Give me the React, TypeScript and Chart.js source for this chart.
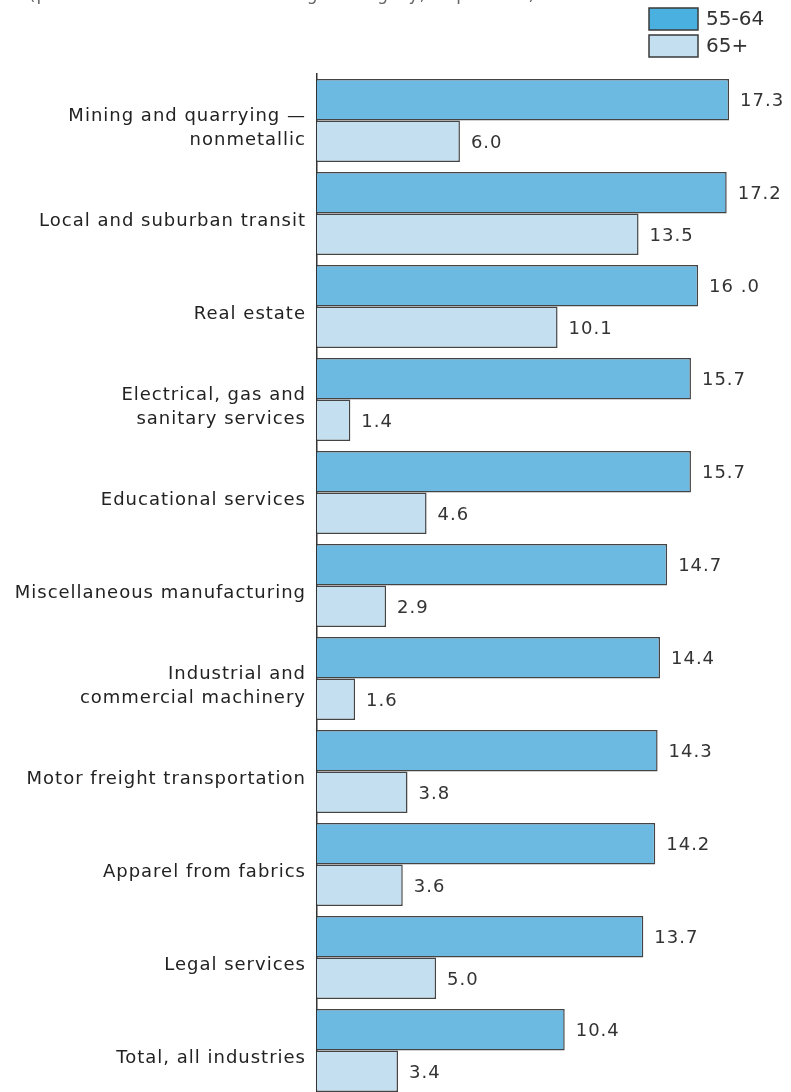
import React, { useEffect, useRef } from "react";
import { Chart, registerables } from "chart.js";

Chart.register(...registerables);

const categories: (string | string[])[] = [
  ["Mining and quarrying —", "nonmetallic"],
  "Local and suburban transit",
  "Real estate",
  ["Electrical, gas and", "sanitary services"],
  "Educational services",
  "Miscellaneous manufacturing",
  ["Industrial and", "commercial machinery"],
  "Motor freight transportation",
  "Apparel from fabrics",
  "Legal services",
  "Total, all industries",
];

const seriesNames = ["55-64", "65+"];

const values5564 = [17.3, 17.2, 16.0, 15.7, 15.7, 14.7, 14.4, 14.3, 14.2, 13.7, 10.4];
const values65 = [6.0, 13.5, 10.1, 1.4, 4.6, 2.9, 1.6, 3.8, 3.6, 5.0, 3.4];

const labels5564 = ["17.3", "17.2", "16 .0", "15.7", "15.7", "14.7", "14.4", "14.3", "14.2", "13.7", "10.4"];
const labels65 = ["6.0", "13.5", "10.1", "1.4", "4.6", "2.9", "1.6", "3.8", "3.6", "5.0", "3.4"];

const topNote = "(percent of workers in each age category, in percent)";

const barColors = ["#6cbae2", "#c4dff0"];
const legendColors = ["#4ab0e0", "#c4dff0"];
const FONT = "'DejaVu Sans', sans-serif";

export default function App() {
  const ref = useRef<HTMLCanvasElement | null>(null);

  useEffect(() => {
    const canvas = ref.current;
    if (!canvas) return;

    const valueLabels = [labels5564, labels65];

    const customPlugin = {
      id: "custom",
      beforeDraw(chart: any) {
        const ctx = chart.ctx;
        ctx.letterSpacing = "1px";
      },
      afterDatasetsDraw(chart: any) {
        const ctx = chart.ctx;
        ctx.save();
        ctx.letterSpacing = "1px";
        ctx.font = `18px ${FONT}`;
        ctx.fillStyle = "#333";
        ctx.textAlign = "left";
        ctx.textBaseline = "middle";
        chart.data.datasets.forEach((ds: any, i: number) => {
          const meta = chart.getDatasetMeta(i);
          meta.data.forEach((el: any, j: number) => {
            ctx.fillText(valueLabels[i][j], el.x + 11, el.y + 2);
          });
        });
        ctx.restore();
      },
      afterDraw(chart: any) {
        const ctx = chart.ctx;
        ctx.save();
        chart.data.datasets.forEach((ds: any, i: number) => {
          const y = 8 + i * 27;
          ctx.fillStyle = legendColors[i];
          ctx.fillRect(649, y, 49, 22);
          ctx.strokeStyle = "#3a3a3a";
          ctx.lineWidth = 1.5;
          ctx.strokeRect(649, y, 49, 22);
          ctx.fillStyle = "#333";
          ctx.font = `20px ${FONT}`;
          ctx.letterSpacing = "0px";
          ctx.textAlign = "left";
          ctx.textBaseline = "middle";
          ctx.fillText(ds.label, 706, y + 12);
        });
        ctx.font = `17px ${FONT}`;
        ctx.letterSpacing = "1px";
        ctx.fillStyle = "#666";
        ctx.textAlign = "right";
        ctx.textBaseline = "alphabetic";
        ctx.fillText(topNote, 536, 0);
        ctx.restore();
      },
    };

    const chart = new Chart(canvas, {
      type: "bar",
      data: {
        labels: categories,
        datasets: [
          {
            label: seriesNames[0],
            data: values5564,
            backgroundColor: barColors[0],
            borderColor: "#444",
            borderWidth: 1.5,
            categoryPercentage: 0.8925,
            barPercentage: 1,
          },
          {
            label: seriesNames[1],
            data: values65,
            backgroundColor: barColors[1],
            borderColor: "#444",
            borderWidth: 1.5,
            categoryPercentage: 0.8925,
            barPercentage: 1,
          },
        ],
      },
      options: {
        indexAxis: "y",
        responsive: false,
        animation: false,
        devicePixelRatio: 1,
        layout: { padding: { top: 74, right: 0, bottom: 0, left: 0 } },
        plugins: {
          legend: { display: false },
          tooltip: { enabled: false },
          title: { display: false },
        },
        scales: {
          x: {
            display: false,
            min: 0,
            max: 19.9,
          },
          y: {
            afterFit(scale: any) {
              scale.width = 317;
              scale.paddingTop = 0;
              scale.paddingBottom = 0;
            },
            grid: { display: false, drawTicks: false },
            border: { display: true, color: "#333", width: 1.5 },
            ticks: {
              font: { family: FONT, size: 18, lineHeight: 1.3 },
              color: "#222",
              padding: 11,
              crossAlign: "near",
              labelOffset: 8,
              autoSkip: false,
            },
          },
        },
      },
      plugins: [customPlugin],
    } as any);

    return () => chart.destroy();
  }, []);

  return (
    <div
      style={{
        position: "absolute",
        left: 0,
        top: 0,
        width: 791,
        height: 1092,
        overflow: "hidden",
        background: "#fff",
      }}
    >
      <canvas ref={ref} width={791} height={1097} style={{ display: "block", width: 791, height: 1097 }} />
    </div>
  );
}
